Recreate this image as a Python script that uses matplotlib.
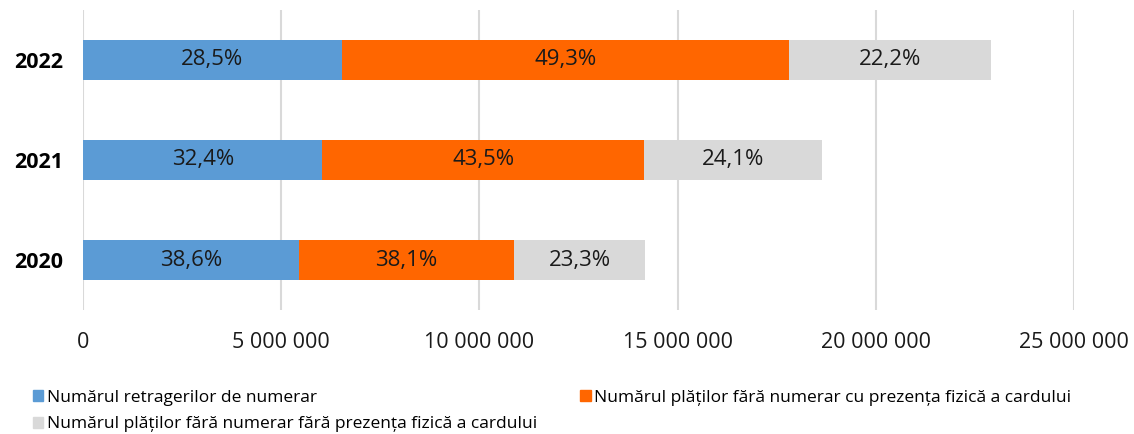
import matplotlib.pyplot as plt
from matplotlib.patches import Patch
from matplotlib.ticker import FuncFormatter

years = ['2020', '2021', '2022']
retrageri = [5.46e6, 6.04e6, 6.53e6]
cu_card = [5.41e6, 8.11e6, 11.28e6]
fara_card = [3.31e6, 4.49e6, 5.09e6]
lbl_retrageri = ['38,6%', '32,4%', '28,5%']
lbl_cu_card = ['38,1%', '43,5%', '49,3%']
lbl_fara_card = ['23,3%', '24,1%', '22,2%']

series_names = ['Numărul retragerilor de numerar',
                'Numărul plăților fără numerar cu prezența fizică a cardului',
                'Numărul plăților fără numerar fără prezența fizică a cardului']
colors = ['#5B9BD5', '#FF6600', '#D9D9D9']

plt.rcParams['font.family'] = ['Open Sans', 'DejaVu Sans']

fig = plt.figure(figsize=(11.34, 4.34), dpi=100)
ax = fig.add_axes([0.0732, 0.2857, 0.8739, 0.6913])

left = [0, 0, 0]
for vals, labels, c in zip([retrageri, cu_card, fara_card],
                           [lbl_retrageri, lbl_cu_card, lbl_fara_card], colors):
    bars = ax.barh(years, vals, left=left, height=0.4, color=c, zorder=3)
    ax.bar_label(bars, labels=labels, label_type='center', fontsize=16, color='#1a1a1a')
    left = [l + v for l, v in zip(left, vals)]

ax.set_xlim(0, 25e6)
ax.set_ylim(-0.5, 2.5)
ax.set_xticks([0, 5e6, 10e6, 15e6, 20e6, 25e6])
ax.xaxis.set_major_formatter(FuncFormatter(lambda v, p: f'{int(v):,}'.replace(',', ' ')))
ax.grid(axis='x', color='#d9d9d9', linewidth=1.5, zorder=0)
for s in ax.spines.values():
    s.set_visible(False)
ax.tick_params(axis='both', length=0)
ax.tick_params(axis='x', labelsize=15.5, pad=16, labelcolor='#1a1a1a')
ax.tick_params(axis='y', labelsize=15.5, pad=14)
for t in ax.get_yticklabels():
    t.set_fontweight('bold')

handles = [Patch(color=c) for c in colors]
fig.legend([handles[0], handles[2], handles[1]],
           [series_names[0], series_names[2], series_names[1]],
           ncol=2, loc='lower left', bbox_to_anchor=(0.015, -0.032),
           frameon=False, fontsize=12.5, handlelength=0.6, handleheight=0.6,
           handletextpad=0.2, columnspacing=2.5, labelspacing=0.6)

fig.savefig('out.png', dpi=100)
